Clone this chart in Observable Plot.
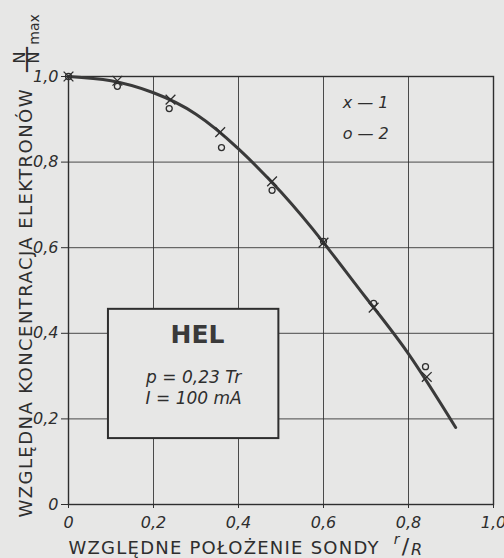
<!DOCTYPE html>
<html>
<head>
<meta charset="utf-8">
<script src="https://cdn.jsdelivr.net/npm/d3@7"></script>
<script src="https://cdn.jsdelivr.net/npm/@observablehq/plot@0.6"></script>
<style>
  html, body { margin: 0; padding: 0; background: #e7e7e6; }
  svg { display: block; }
</style>
</head>
<body>
<div id="chart"></div>
<script>
// ---- data ----
const xTicks = [0, 0.2, 0.4, 0.6, 0.8, 1.0];
const xTickLabels = ["0", "0,2", "0,4", "0,6", "0,8", "1,0"];
const yTicks = [0, 0.2, 0.4, 0.6, 0.8, 1.0];
const yTickLabels = ["0", "0,2", "0,4", "0,6", "0,8", "1,0"];

// series 1 (x)
const r1 = [0, 0.115, 0.24, 0.357, 0.479, 0.60, 0.718, 0.843];
const n1 = [1.0, 0.99, 0.946, 0.87, 0.755, 0.612, 0.46, 0.298];
// series 2 (o)
const r2 = [0, 0.115, 0.237, 0.36, 0.479, 0.60, 0.718, 0.84];
const n2 = [1.0, 0.977, 0.925, 0.834, 0.734, 0.615, 0.47, 0.322];
// fitted curve
const curveR = [0, 0.1, 0.2, 0.3, 0.4, 0.5, 0.6, 0.7, 0.8, 0.911];
const curveN = [1.0, 0.99, 0.962, 0.912, 0.831, 0.73, 0.612, 0.483, 0.352, 0.18];

// info box
const boxR = [0.094, 0.495];
const boxN = [0.154, 0.456];
const boxTitle = "HEL";
const boxLines = ["p = 0,23 Tr", "I = 100 mA"];
const boxLineN = [0.395, 0.297, 0.248];

// legend
const legendLabels = ["x — 1", "o — 2"];
const legendR = 0.645;
const legendN = [0.939, 0.867];

const yLabel = "WZGLĘDNA KONCENTRACJA ELEKTRONÓW";
const xLabel = "WZGLĘDNE POŁOŻENIE SONDY";

// ---- tables ----
const s1 = r1.map((r, i) => ({r, n: n1[i]}));
const s2 = r2.map((r, i) => ({r, n: n2[i]}));
const curve = curveR.map((r, i) => ({r, n: curveN[i]}));
const xFmt = new Map(xTicks.map((t, i) => [t, xTickLabels[i]]));
const yFmt = new Map(yTicks.map((t, i) => [t, yTickLabels[i]]));

const paper = "#e7e7e6";
const ink = "#2e2e2e";
const font = "'DejaVu Sans', sans-serif";
const mid = {textAnchor: "middle", lineAnchor: "middle", fill: ink};

const chart = Plot.plot({
  width: 504,
  height: 558,
  marginLeft: 68,
  marginRight: 11,
  marginTop: 76,
  marginBottom: 54,
  style: {background: paper, fontFamily: font, color: ink},
  x: {domain: [0, 1]},
  y: {domain: [0, 1]},
  marks: [
    Plot.gridX(xTicks, {stroke: ink, strokeOpacity: 0.85, strokeWidth: 1}),
    Plot.gridY(yTicks, {stroke: ink, strokeOpacity: 0.85, strokeWidth: 1}),
    Plot.frame({stroke: ink, strokeWidth: 1.4}),
    Plot.axisX(xTicks, {tickFormat: d => xFmt.get(d), tickSize: 4, tickPadding: 8, fontSize: 16, fontStyle: "italic", label: null, stroke: ink}),
    Plot.axisY(yTicks, {tickFormat: d => yFmt.get(d), tickSize: 7, tickPadding: 3, fontSize: 16, fontStyle: "italic", label: null, stroke: ink}),
    Plot.line(curve, {x: "r", y: "n", curve: "natural", stroke: "#3a3a3a", strokeWidth: 3}),
    Plot.rect([{}], {x1: boxR[0], x2: boxR[1], y1: boxN[0], y2: boxN[1], fill: paper, stroke: ink, strokeWidth: 2}),
    Plot.text([boxTitle], {x: boxR[0], y: boxLineN[0], dx: 62, textAnchor: "start", fontSize: 25, fontWeight: "bold", fill: "#3a3a3a"}),
    Plot.text(boxLines, {x: (boxR[0] + boxR[1]) / 2, y: (d, i) => boxLineN[i + 1], fontSize: 17, fontStyle: "italic", fill: ink}),
    Plot.dot(s1, {x: "r", y: "n", symbol: "times", r: 4.5, stroke: ink, strokeWidth: 1.3}),
    Plot.dot(s2, {x: "r", y: "n", symbol: "circle", r: 3, stroke: ink, strokeWidth: 1.3, fill: "none"}),
    Plot.text(legendLabels, {x: legendR, y: (d, i) => legendN[i], textAnchor: "start", fontSize: 16, fontStyle: "italic", fill: ink}),
    // axis titles
    Plot.text([yLabel], {frameAnchor: "bottom-left", textAnchor: "start", lineAnchor: "middle", rotate: -90, dx: -42, dy: 13, fontSize: 18, fill: ink}),
    Plot.text([xLabel], {frameAnchor: "bottom-left", textAnchor: "start", lineAnchor: "middle", dy: 44, fontSize: 18, fill: ink}),
    Plot.text(["r"], {...mid, frameAnchor: "bottom-left", dx: 328, dy: 35, fontSize: 14, fontStyle: "italic"}),
    Plot.text(["/"], {...mid, frameAnchor: "bottom-left", dx: 337, dy: 42, fontSize: 22}),
    Plot.text(["R"], {...mid, frameAnchor: "bottom-left", dx: 348, dy: 45, fontSize: 16, fontStyle: "italic"}),
    // N / Nmax
    Plot.text(["N"], {...mid, frameAnchor: "top-left", rotate: -90, dx: -49, dy: -19, fontSize: 16}),
    Plot.text(["—"], {...mid, frameAnchor: "top-left", rotate: -90, dx: -42, dy: -17, fontSize: 28}),
    Plot.text(["N"], {...mid, frameAnchor: "top-left", rotate: -90, dx: -35, dy: -19, fontSize: 16}),
    Plot.text(["max"], {...mid, frameAnchor: "top-left", rotate: -90, dx: -34, dy: -47, fontSize: 14})
  ]
});

const svg = d3.select(chart);
svg.selectAll("text").filter(function() { return this.textContent === yLabel; })
  .attr("textLength", 428).attr("lengthAdjust", "spacing");
svg.selectAll("text").filter(function() { return this.textContent === xLabel; })
  .attr("textLength", 310).attr("lengthAdjust", "spacing");
svg.selectAll("text").filter(function() { return this.textContent === boxTitle; })
  .attr("textLength", 54).attr("lengthAdjust", "spacing");
document.getElementById("chart").appendChild(chart);
</script>
</body>
</html>
